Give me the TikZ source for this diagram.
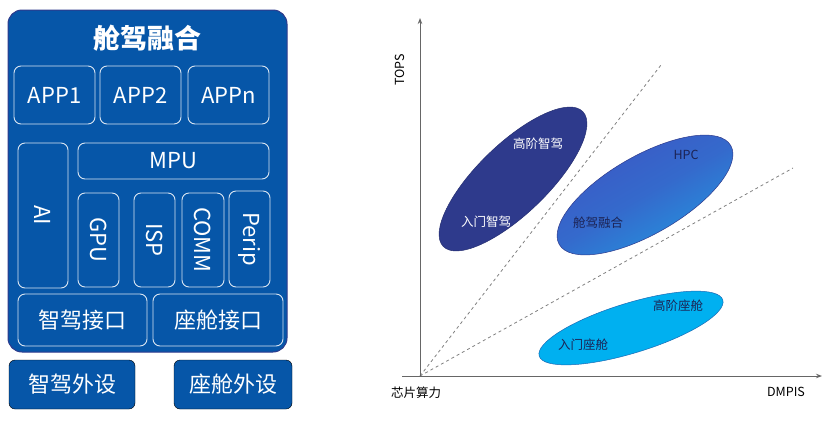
\documentclass[tikz,border=0pt]{standalone}
\usepackage{fontspec}
\setmainfont{Noto Sans CJK SC}
\usetikzlibrary{arrows.meta}
\definecolor{bluebg}{HTML}{0656A8}
\definecolor{navy}{HTML}{2E3A8C}
\definecolor{midblue}{HTML}{3F4FC0}
\definecolor{skyb}{HTML}{1CA8E8}
\definecolor{cyanb}{HTML}{00B0F0}
\begin{document}
\begin{tikzpicture}[x=1pt,y=-1pt,
  outer/.style={draw=navy,fill=bluebg,rounded corners=14pt,line width=1pt},
  inner/.style={draw=white!85!bluebg,rounded corners=7pt,line width=0.9pt},
  ext/.style={fill=bluebg,rounded corners=6pt},
  lbl/.style={text=white,font=\fontsize{22}{24}\selectfont},
  clbl/.style={font=\fontsize{12.5}{14}\selectfont}]
\useasboundingbox (0,0) rectangle (831,424);
\draw[outer] (8,10) rectangle (287,352);
\node[text=white,font=\fontsize{27}{30}\selectfont\bfseries] (title) at (147,38) {舱驾融合};
\draw[inner] (14,66) rectangle (95,124) node[lbl,midway] (a1) {APP1};
\draw[inner] (100,66) rectangle (181,124) node[lbl,midway] (a2) {APP2};
\draw[inner] (188,66) rectangle (269,124) node[lbl,midway] (an) {APPn};
\draw[inner] (18,143) rectangle (68,288) node[lbl,midway,rotate=-90] (ai) {AI};
\draw[inner] (78,143) rectangle (269,179) node[lbl,midway] (mpu) {MPU};
\draw[inner] (78,193) rectangle (119,287) node[lbl,midway,rotate=-90] (gpu) {GPU};
\draw[inner] (134,193) rectangle (175,287) node[lbl,midway,rotate=-90] (isp) {ISP};
\draw[inner] (182,193) rectangle (224,287) node[lbl,midway,rotate=-90] (comm) {COMM};
\draw[inner] (229,191) rectangle (270,287) node[lbl,midway,rotate=-90] (perip) {Perip};
\draw[inner] (18,294) rectangle (147,346) node[lbl,midway] (zj) {智驾接口};
\draw[inner] (153,294) rectangle (283,346) node[lbl,midway] (zc) {座舱接口};
\draw[ext] (9,360) rectangle (135,409) node[lbl,midway] (zw) {智驾外设};
\draw[ext] (174,360) rectangle (292,409) node[lbl,midway] (cw) {座舱外设};
% chart
\coordinate (o) at (420,376);
\coordinate (ytop) at (420,18);
\coordinate (xl) at (402,376);
\coordinate (xr) at (822,376);
\coordinate (d1) at (661,65);
\coordinate (d2) at (793,168);
\fill[navy,draw=navy!80!black,line width=0.5pt,rotate around={44:(513,179)}] (513,179) ellipse [x radius=97, y radius=35];
\begin{scope}
\clip[rotate around={30:(645,195)}] (645,195) ellipse [x radius=99, y radius=39];
\shade[top color=midblue,bottom color=skyb,middle color=midblue!70!skyb,shading angle=30] (520,100) rectangle (770,290);
\end{scope}
\draw[draw=navy,line width=0.5pt,rotate around={30:(645,195)}] (645,195) ellipse [x radius=99, y radius=39];
\fill[cyanb,draw=navy!60!cyanb,line width=0.5pt,rotate around={17:(631,328)}] (631,328) ellipse [x radius=96, y radius=25];
\draw[gray,dashed,line width=0.8pt] (o) -- (d1);
\draw[gray,dashed,line width=0.8pt] (o) -- (d2);
\draw[gray!80!black,line width=0.9pt,-{Stealth[length=6pt]}] (o) -- (ytop);
\draw[gray!80!black,line width=0.9pt,-{Stealth[length=6pt]}] (xl) -- (xr);
\node[clbl,rotate=90] (tops) at (400,70) {TOPS};
\node[clbl] (xin) at (416,393) {芯片算力};
\node[clbl] (dm) at (786,392) {DMPIS};
\node[clbl,text=white] (l1) at (538,144) {高阶智驾};
\node[clbl,text=white] (l2) at (486,222) {入门智驾};
\node[clbl,text=navy!60!black] (l3) at (686,155) {HPC};
\node[clbl,text=navy!60!black] (l4) at (598,223) {舱驾融合};
\node[clbl,text=navy!60!black] (l5) at (678,306) {高阶座舱};
\node[clbl,text=navy!60!black] (l6) at (583,345) {入门座舱};
\end{tikzpicture}
\end{document}
